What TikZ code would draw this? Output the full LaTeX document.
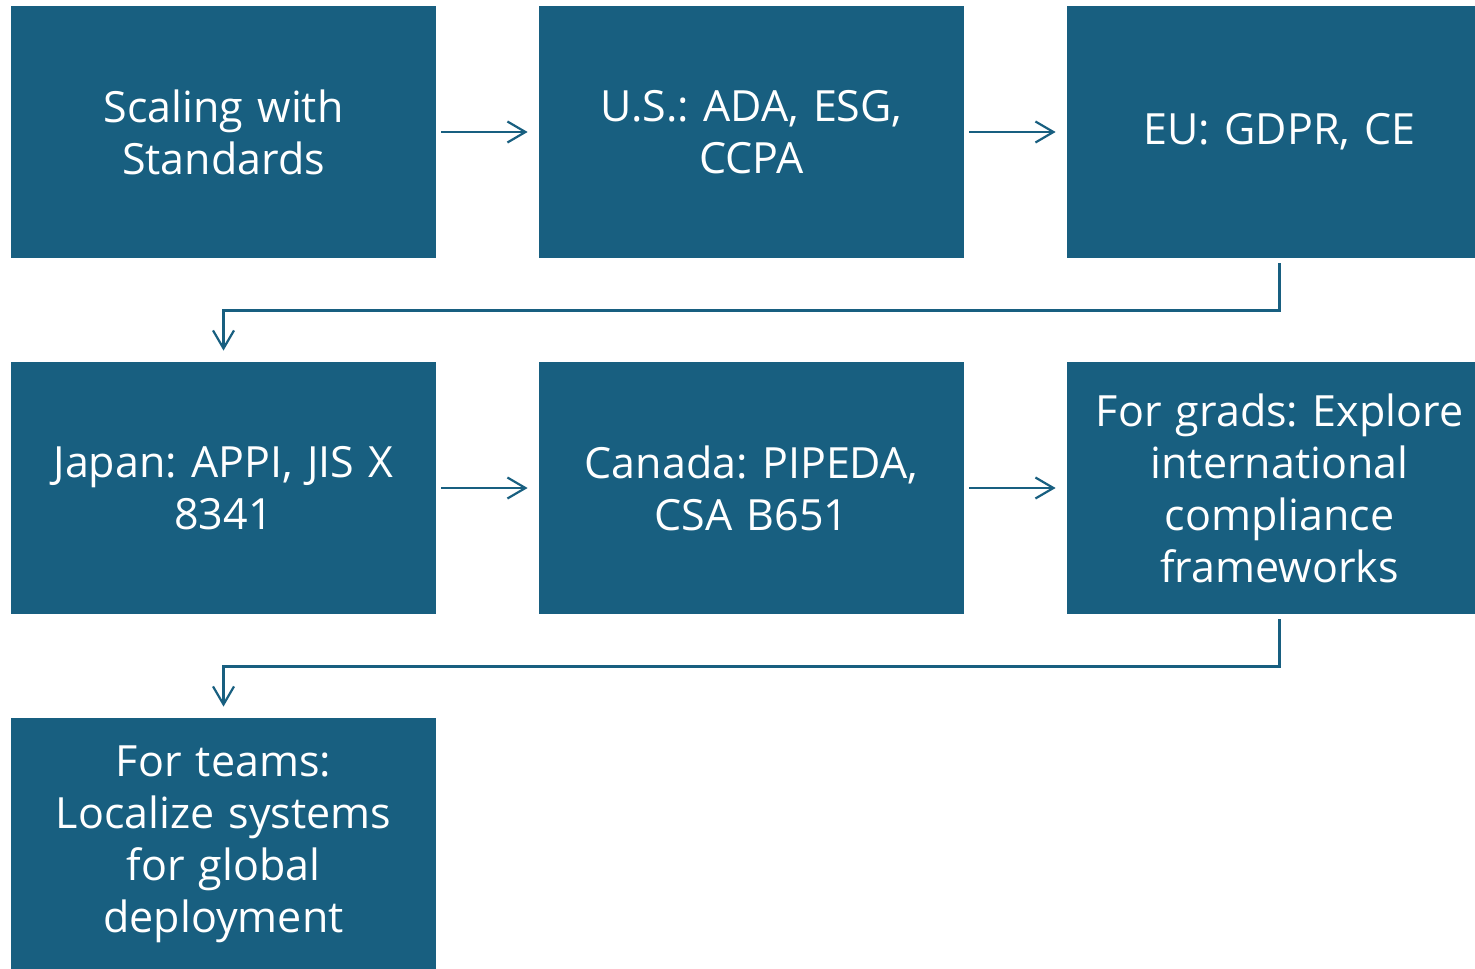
\documentclass[tikz,border=0pt]{standalone}
\usepackage{fontspec}
\setmainfont{Open Sans}
\usetikzlibrary{arrows.meta}
\definecolor{boxblue}{RGB}{24,95,128}
\frenchspacing
\begin{document}
\begin{tikzpicture}[node distance=264pt]

              % Definitions
              \tikzstyle{Stage} = [rectangle, minimum width=212.5pt, minimum height=126pt, text width=205pt, inner xsep=3pt, align=center, fill=boxblue, text=white, font=\fontsize{21.5}{26}\selectfont]
              \tikzstyle{arrow} = [draw=boxblue, line width=1.1pt, -{Straight Barb[length=9pt,width=10.5pt,line width=1.1pt]}, shorten <=2.5pt, shorten >=5.5pt]

              \clip (0,0) rectangle (737.5pt,-484pt);

              \node (Scaling) [Stage] at (111.75pt,-66pt) {Scaling with\\Standards};
              \node (US) [Stage, right of=Scaling] {U.S.: ADA, ESG,\\CCPA};
              \node (EU) [Stage, right of=US] {EU: GDPR, CE};

              \node (Japan) [Stage, below of=Scaling, yshift=86pt] {Japan: APPI, JIS X\\8341};
              \node (Canada) [Stage, right of=Japan] {Canada: PIPEDA,\\CSA B651};
              \node (Grads) [Stage, right of=Canada] {For grads: Explore\\international\\compliance\\frameworks};

              \node (Teams) [Stage, below of=Japan, yshift=86pt] {For teams:\\Localize systems\\for global\\deployment};

              \draw [arrow] (Scaling) -- (US);
              \draw [arrow] (US) -- (EU);
              \draw [arrow] (EU.south) -- ++(0,-26pt) -| (Japan.north);

              \draw [arrow] (Japan) -- (Canada);
              \draw [arrow] (Canada) -- (Grads);
              \draw [arrow] (Grads.south) -- ++(0,-26pt) -| (Teams.north);

            \end{tikzpicture}
\end{document}
